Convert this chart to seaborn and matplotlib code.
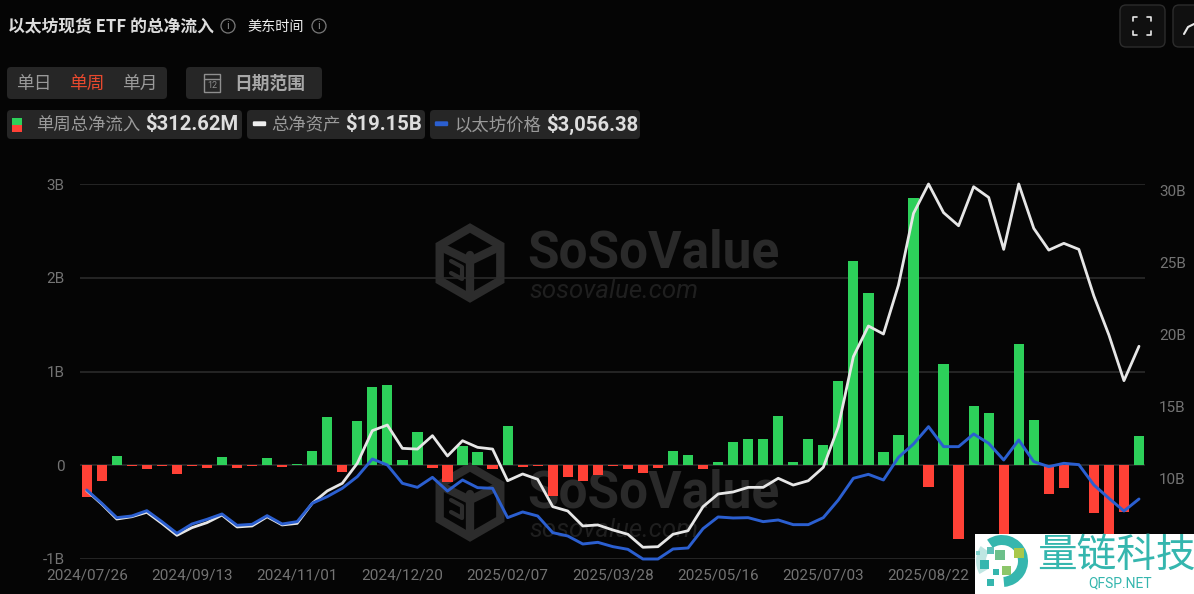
import matplotlib
matplotlib.use("Agg")
import matplotlib.pyplot as plt
import pandas as pd
import seaborn as sns
from matplotlib.patches import Circle, FancyBboxPatch, Rectangle, RegularPolygon, Wedge

# weekly net flow, billions of USD
net_flow = [
    -0.34, -0.165, 0.10, -0.01, -0.04, -0.01, -0.09, -0.01, -0.025, 0.085,
    -0.03, -0.005, 0.08, -0.02, 0.012, 0.155, 0.515, -0.07, 0.47, 0.835,
    0.855, 0.06, 0.35, -0.03, -0.18, 0.21, 0.14, -0.04, 0.42, -0.02,
    -0.004, -0.33, -0.12, -0.17, -0.10, -0.01, -0.045, -0.08, -0.03, 0.155,
    0.105, -0.035, 0.04, 0.25, 0.285, 0.28, 0.53, 0.04, 0.285, 0.22,
    0.90, 2.18, 1.84, 0.146, 0.32, 2.85, -0.235, 1.08, -0.785, 0.63,
    0.555, -0.80, 1.295, 0.485, -0.31, -0.24, 0.007, -0.505, -0.73, -0.50,
    0.3126,
]
# total net assets, billions of USD
net_assets = [
    9.12, 8.19, 7.15, 7.31, 7.62, 6.85, 6.02, 6.55, 6.90, 7.43,
    6.60, 6.67, 7.31, 6.74, 6.85, 8.24, 9.10, 9.63, 11.02, 13.29,
    13.68, 12.06, 12.01, 12.94, 11.53, 12.59, 12.13, 12.01, 9.81, 10.28,
    9.91, 8.01, 7.71, 6.67, 6.74, 6.39, 6.09, 5.19, 5.23, 6.09,
    6.34, 8.01, 8.89, 9.03, 9.35, 9.35, 9.98, 9.51, 9.81, 10.74,
    13.56, 18.43, 20.56, 20.0, 23.4, 28.38, 30.42, 28.43, 27.52, 30.23,
    29.49, 25.88, 30.42, 27.34, 25.83, 26.30, 25.88, 22.64, 19.93, 16.76,
    19.15,
]
# ETH price, USD
eth_price = [
    3278, 2950, 2597, 2638, 2769, 2499, 2212, 2441, 2556, 2687,
    2409, 2433, 2646, 2441, 2499, 2950, 3114, 3319, 3606, 4040,
    3893, 3442, 3343, 3589, 3253, 3524, 3335, 3319, 2597, 2737,
    2638, 2228, 2146, 1949, 1990, 1884, 1818, 1580, 1580, 1826,
    1851, 2327, 2614, 2589, 2597, 2499, 2540, 2425, 2425, 2597,
    3032, 3565, 3663, 3524, 4081, 4409, 4836, 4344, 4344, 4655,
    4426, 4016, 4508, 3975, 3852, 3934, 3901, 3401, 3073, 2761,
    3056.38,
]
date_labels = ["2024/07/26", "2024/09/13", "2024/11/01", "2024/12/20", "2025/02/07",
               "2025/03/28", "2025/05/16", "2025/07/03", "2025/08/22"]
left_ticks = [-1, 0, 1, 2, 3]
left_labels = ["-1B", "0", "1B", "2B", "3B"]
right_ticks = [10, 15, 20, 25, 30]
right_labels = ["10B", "15B", "20B", "25B", "30B"]

BG = "#050505"
GREEN = "#2dd05a"
RED = "#ff4136"
BLUE = "#2b5fd0"
WHITE = "#e6e6e6"
TICK = "#737373"
GRID = "#2b2b2b"
PANEL = "#262626"
TEAL = "#35b6ae"

sns.set_theme(style="dark")
plt.rcParams["font.family"] = ["Noto Sans CJK SC", "DejaVu Sans"]
plt.rcParams["axes.unicode_minus"] = False

df = pd.DataFrame({
    "week": range(len(net_flow)),
    "flow": net_flow,
    "assets": net_assets,
    "price": eth_price,
})
df["sign"] = ["up" if v >= 0 else "down" for v in df["flow"]]

fig = plt.figure(figsize=(11.94, 5.94), dpi=100, facecolor=BG)


def overlay(zorder):
    a = fig.add_axes([0, 0, 1, 1], zorder=zorder)
    a.set_xlim(0, 1194)
    a.set_ylim(594, 0)
    a.axis("off")
    a.patch.set_alpha(0)
    return a


back = overlay(-1)
front = overlay(5)

# chart area, placed on the pixel box of the plot
ax = fig.add_axes([80 / 1194, 1 - 559 / 594, 1065 / 1194, 375 / 594], zorder=1)
ax.patch.set_alpha(0)
sns.barplot(data=df, x="week", y="flow", hue="sign", palette={"up": GREEN, "down": RED},
            dodge=False, width=0.68, saturation=1, linewidth=0, edgecolor="none",
            legend=False, ax=ax, zorder=3)
ax.set_xlim(-0.446, 70.4)
ax.set_ylim(-1, 3)
ax.set_yticks(left_ticks, left_labels)
ax.set_xticks(range(0, 7 * len(date_labels), 7), date_labels)
ax.set_xlabel("")
ax.set_ylabel("")
ax.grid(False)
for v in left_ticks:
    ax.axhline(v, color=GRID, lw=1.2, zorder=1)
ax.tick_params(axis="x", length=0, colors=TICK, labelsize=11, pad=7)
ax.tick_params(axis="y", length=0, colors=TICK, labelsize=11, pad=11)
for lab in ax.get_xticklabels() + ax.get_yticklabels():
    lab.set_fontfamily("Roboto")
sns.despine(ax=ax, left=True, bottom=True)

ax_assets = ax.twinx()
sns.lineplot(data=df, x="week", y="assets", color=WHITE, lw=2, ax=ax_assets, clip_on=False)
ax_assets.set_ylim(4.375, 30.42)
ax_assets.set_yticks(right_ticks, right_labels)
ax_assets.set_ylabel("")
ax_assets.grid(False)
ax_assets.tick_params(axis="y", length=0, colors=TICK, labelsize=11, pad=10)
for lab in ax_assets.get_yticklabels():
    lab.set_fontfamily("Roboto")

ax_price = ax.twinx()
sns.lineplot(data=df, x="week", y="price", color=BLUE, lw=2.1, ax=ax_price, clip_on=False)
ax_price.set_ylim(1580, 10805)
ax_price.set_yticks([])
ax_price.set_ylabel("")
ax_price.grid(False)
for a in (ax_assets, ax_price):
    a.patch.set_alpha(0)
    sns.despine(ax=a, left=True, bottom=True, right=True)
ax.set_xlim(-0.446, 70.4)

# watermarks behind the chart
for cy in (263, 502):
    back.add_patch(RegularPolygon((470, cy), 6, radius=35, fill=False, ec="#2c2c2c", lw=6))
    back.plot([470, 470], [cy - 8, cy + 34], color="#2c2c2c", lw=6)
    back.plot([441, 470, 499], [cy - 16, cy - 2, cy - 16], color="#2c2c2c", lw=6)
    back.plot([451, 462, 462, 451], [cy - 2, cy + 4, cy + 16, cy + 10], color="#2c2c2c", lw=3)
    back.text(527, cy - 9, "SoSoValue", color="#2a2a2a", fontsize=37, fontweight="bold",
              family="Roboto", va="center", ha="left")
    back.text(529, cy + 28, "sosovalue.com", color="#1f1f1f", fontsize=18.5, style="italic",
              family="Roboto", va="center", ha="left")


def panel(x0, y0, x1, y1, color=PANEL):
    front.add_patch(FancyBboxPatch((x0 + 4, y0 + 4), x1 - x0 - 8, y1 - y0 - 8,
                                   boxstyle="round,pad=4", fc=color, ec="none"))


def info_icon(x, y):
    front.add_patch(Circle((x, y), 7, fill=False, ec="#7a7a7a", lw=0.9))
    front.text(x, y, "i", color="#8a8a8a", fontsize=8, ha="center", va="center", family="Roboto")


# header
front.text(8, 27, "以太坊现货 ETF 的总净流入", color="#dcdcdc", fontsize=12.1, fontweight="bold", va="center")
info_icon(228, 26)
front.text(247, 27, "美东时间", color="#f0f0f0", fontsize=10.2, va="center")
info_icon(319, 26)

panel(7, 67, 167, 99)
front.text(33.5, 84, "单日", color="#9a9a9a", fontsize=12.8, ha="center", va="center")
front.text(87, 84, "单周", color="#e8492e", fontsize=12.8, ha="center", va="center")
front.text(140, 84, "单月", color="#9a9a9a", fontsize=12.8, ha="center", va="center")

panel(186, 67, 322, 99)
front.add_patch(Rectangle((204, 74), 16, 18, fill=False, ec="#8f8f8f", lw=1))
front.plot([204, 220], [79, 79], color="#8f8f8f", lw=1)
front.text(212, 85.5, "12", color="#8f8f8f", fontsize=6.5, ha="center", va="center", family="Roboto")
front.text(234, 84, "日期范围", color="#a8a8a8", fontsize=12.8, fontweight="bold", va="center")

panel(7, 110, 242, 139)
front.add_patch(Rectangle((12, 118), 10, 7, fc=GREEN, ec="none"))
front.add_patch(Rectangle((12, 125), 10, 7, fc=RED, ec="none"))
front.text(36, 125.5, "单周总净流入", color="#9a9a9a", fontsize=12.5, va="center")
front.text(145, 124.5, "$312.62M", color="#dedede", fontsize=14.6, fontweight="bold", family="Roboto", va="center")

panel(247, 110, 425, 139)
front.add_patch(FancyBboxPatch((254, 122.5), 11, 2.5, boxstyle="round,pad=1.2", fc="#eeeeee", ec="none"))
front.text(271, 125.5, "总净资产", color="#9a9a9a", fontsize=12.5, va="center")
front.text(345, 124.5, "$19.15B", color="#dedede", fontsize=14.6, fontweight="bold", family="Roboto", va="center")

panel(430, 110, 640, 139)
front.add_patch(FancyBboxPatch((436, 122.5), 11, 2.5, boxstyle="round,pad=1.2", fc=BLUE, ec="none"))
front.text(454, 125.5, "以太坊价格", color="#9a9a9a", fontsize=12.5, va="center")
front.text(546, 124.5, "$3,056.38", color="#dedede", fontsize=14.6, fontweight="bold", family="Roboto", va="center")

# top right buttons
for x0, x1 in ((1120, 1165), (1173, 1218)):
    front.add_patch(FancyBboxPatch((x0 + 6, 11), x1 - x0 - 12, 30, boxstyle="round,pad=6",
                                   fc="#101010", ec="#2c2c2c", lw=1))
for sx, sy in ((-1, -1), (1, -1), (-1, 1), (1, 1)):
    cx, cy = 1142 + sx * 9, 26 + sy * 9
    front.plot([cx - sx * 4, cx, cx], [cy, cy, cy - sy * 4], color="#e8e8e8", lw=1.2)
front.plot([1184, 1188, 1194], [34, 27, 24], color="#e8e8e8", lw=1.5)

# corner logo
front.add_patch(Rectangle((975, 534), 219, 60, fc="white", ec="none", zorder=4))
front.add_patch(Wedge((1002, 561), 26, -125, 85, width=10, fc=TEAL, ec="none", zorder=5))
front.add_patch(Wedge((1002, 561), 26, 150, 215, width=10, fc="#bfe6e2", ec="none", zorder=5))
for sx, sy, sc, ss in ((990, 550, "#5dc1b8", 7), (1000, 555, "#6cc08a", 10), (1019, 553, "#a9c84a", 10),
                       (1006, 570, "#8cc66a", 9), (984, 564, "#35b6ae", 9), (996, 572, "#35b6ae", 6),
                       (990, 582, "#35b6ae", 7), (978, 553, "#7fd0ca", 4)):
    front.add_patch(Rectangle((sx - ss / 2, sy - ss / 2), ss, ss, fc=sc, ec="none", zorder=5))
front.text(1037, 556, "量链科技", color=TEAL, fontsize=28.5, va="center", ha="left", zorder=6)
front.text(1120, 583, "QFSP.NET", color=TEAL, fontsize=10, va="center", ha="center", family="Roboto", zorder=6)

fig.savefig("out.png", dpi=100, facecolor=BG)
